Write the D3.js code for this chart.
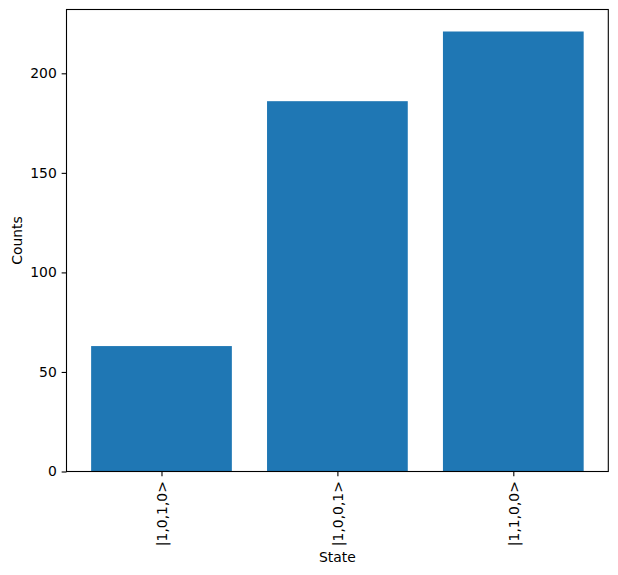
<!DOCTYPE html>
<html><head><meta charset="utf-8">
<script src="https://cdn.jsdelivr.net/npm/d3@7"></script>
<style>body{margin:0;background:#fff}svg{display:block}text{font-family:"DejaVu Sans",sans-serif;}</style>
</head><body>
<script>
const categories = ["|1,0,1,0>", "|1,0,0,1>", "|1,1,0,0>"];
const counts = [63, 186, 221];
const yTicks = [0, 50, 100, 150, 200];

const W = 618, H = 575;
const m = {left: 66.5, top: 9.5, right: 608.3, bottom: 471.5};
const svg = d3.select("body").append("svg").attr("width", W).attr("height", H);

const x = d3.scaleLinear().domain([-0.54, 2.54]).range([m.left, m.right]);
const y = d3.scaleLinear().domain([0, d3.max(counts) * 1.05]).range([m.bottom, m.top]);

svg.selectAll("rect.bar").data(counts).enter().append("rect")
  .attr("class", "bar")
  .attr("x", (d, i) => x(i - 0.4))
  .attr("width", (d, i) => x(i + 0.4) - x(i - 0.4))
  .attr("y", d => y(d))
  .attr("height", d => y(0) - y(d))
  .attr("fill", "#1f77b4");

const fs = "13.9px";
const tick = 4.86;

// y axis
const yAxis = d3.axisLeft(y).tickValues(yTicks).tickSize(tick).tickPadding(4.86);
const gy = svg.append("g").attr("transform", `translate(${m.left},0)`).call(yAxis);
gy.select(".domain").remove();
gy.selectAll("text").style("font-size", fs).attr("fill", "#000");
gy.selectAll("line").attr("stroke", "#000").attr("stroke-width", 1.1);

// x axis
const xAxis = d3.axisBottom(x).tickValues([0, 1, 2]).tickFormat((d) => categories[d]).tickSize(tick).tickPadding(4.86);
const gx = svg.append("g").attr("transform", `translate(0,${m.bottom})`).call(xAxis);
gx.select(".domain").remove();
gx.selectAll("line").attr("stroke", "#000").attr("stroke-width", 1.1);
gx.selectAll("text").style("font-size", fs).attr("fill", "#000")
  .attr("transform", "rotate(-90)")
  .attr("text-anchor", "end")
  .attr("x", -(tick + 4.86)).attr("y", 0).attr("dy", "0.35em");

// frame
svg.append("rect").attr("x", m.left).attr("y", m.top)
  .attr("width", m.right - m.left).attr("height", m.bottom - m.top)
  .attr("fill", "none").attr("stroke", "#000").attr("stroke-width", 1.1);

svg.append("text").attr("x", (m.left + m.right) / 2).attr("y", 562)
  .attr("text-anchor", "middle").style("font-size", fs).text("State");
svg.append("text").attr("transform", `translate(22,${(m.top + m.bottom) / 2}) rotate(-90)`)
  .attr("text-anchor", "middle").style("font-size", fs).text("Counts");
</script>
</body></html>
